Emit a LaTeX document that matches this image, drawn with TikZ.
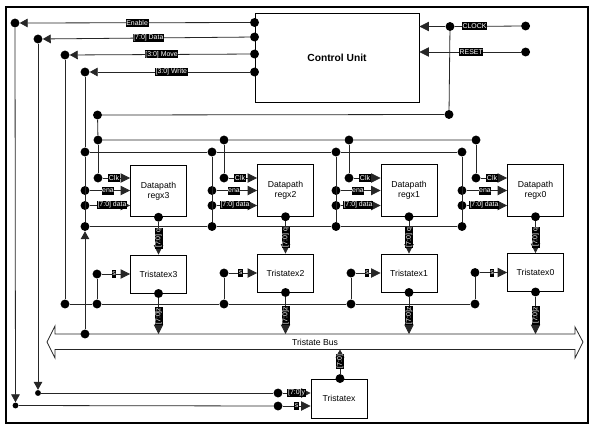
\documentclass[tikz,border=0pt]{standalone}
\usepackage{fontspec}
\setmainfont{Liberation Sans}
\usetikzlibrary{arrows.meta}
\tikzset{
    dot/.style={circle,fill=black,inner sep=0pt,minimum size=6.7pt},
    smalldot/.style={circle,fill=black,inner sep=0pt,minimum size=4.4pt},
    box/.style={draw,line width=.7pt,fill=white,align=center,font=\fontsize{6.5}{7.6}\selectfont,inner sep=0pt},
    sig/.style={fill=black,text=white,inner sep=.5pt,minimum height=6pt,font=\fontsize{5.2}{5.2}\selectfont},
    sigv/.style={sig,rotate=90},
    wire/.style={black!85,line width=.6pt},
    arrow/.style={wire,-{Triangle[length=7pt,width=7pt]}},
    arrowsmall/.style={wire,-{Triangle[length=6pt,width=6.5pt]}}
}

\begin{document}
\begin{tikzpicture}[x=.75pt,y=-.75pt]
    \useasboundingbox (0,0) rectangle (593,426);

    % Frame round the whole picture
    \draw[line width=.8pt] (6,7) rectangle (588,423);

    % Control unit and its signals
    \node[box,minimum width=164*.75pt,minimum height=89*.75pt,font=\fontsize{7.7}{9}\selectfont\bfseries] (cu) at (337,57.5) {Control Unit};
    \node[dot] (cuen) at (cu.west |- 0,22.5) {};
    \node[dot] (cuda) at (cu.west |- 0,37) {};
    \node[dot] (cumo) at (cu.west |- 0,54) {};
    \node[dot] (cuwr) at (cu.west |- 0,72) {};
    \node[dot] (en) at (15,23) {};
    \node[dot] (da) at (38,39) {};
    \node[dot] (mo) at (65,55) {};
    \node[dot] (wr) at (85,72) {};
    \draw[arrowsmall] (cuen) -- node[sig,pos=.49] {Enable} (en);
    \draw[arrowsmall] (cuda) -- node[sig,pos=.49] {[7:0] Data} (da);
    \draw[arrowsmall] (cumo) -- node[sig,pos=.49] {[3:0] Move} (mo);
    \draw[arrowsmall] (cuwr) -- node[sig,pos=.49] {[3:0] Write} (wr);

    % Clock and reset inputs
    \node[dot] (clkin) at (525.6,26) {};
    \node[dot] (rstin) at (525.6,52) {};
    \node[dot] (clk) at (450,26.5) {};
    \node[dot] (clkr) at (449,114.5) {};
    \node[dot] (clkl) at (97.5,115) {};
    \draw[wire] (clkin) -- node[sig,pos=.7] {CLOCK} (clk);
    \draw[arrow] (clk) -- (cu.east |- clk);
    \draw[arrow] (rstin) -- node[sig,pos=.49] {RESET} (cu.east |- rstin);
    \draw[wire] (clk) -- (clkr) -- (clkl);

    % Bus at the bottom, drawn as a double arrow
    \draw[wire] (55,334) -- (575,334) -- (575,327) -- (583,342) -- (575,358) -- (575,349.5) -- (55,349.5) -- (55,358) -- (47,342) -- (55,326) -- cycle;
    \node[font=\fontsize{6.5}{7.6}\selectfont] (bustext) at (315,342) {Tristate Bus};

    % The four slices: register above, tristate below
    \foreach \n/\cx/\ry/\ty/\ck/\en/\sx/\ckl/\enl/\dal/\sl in {
        3/158.5/191/274/98/85/97/114/108/112/114,
        2/285.5/190.5/273/224/212/224/240/234/235/240.5,
        1/409/190.5/273/349/336/351/365/358/358/367,
        0/535.5/190.5/272.5/476/462/475/492/485/484/492}{
        \node[box,minimum width=56*.75pt,minimum height=51.5*.75pt] (regx\n) at (\cx,\ry) {Datapath\\regx\n};
        \node[box,minimum width=56*.75pt,minimum height=38*.75pt] (tri\n) at (\cx,\ty) {Tristatex\n};
        \node[dot] (ctop\n) at (\ck,140) {};
        \node[dot] (cin\n) at (\ck,178) {};
        \node[dot] (etop\n) at (\en,152) {};
        \node[dot] (ein\n) at (\en,190.5) {};
        \node[dot] (din\n) at (\en,205.5) {};
        \node[dot] (dbot\n) at (\en,226.5) {};
        \node[dot] (qdot\n) at (regx\n.south) {};
        \node[dot] (odot\n) at (tri\n.south) {};
        \node[dot] (sdot\n) at (\sx,\ty) {};
        \node[dot] (sbus\n) at (\sx,304) {};
        \coordinate (bus\n) at (\cx,334);
        \draw[wire] (ctop\n) -- (cin\n);
        \draw[wire] (etop\n) -- (dbot\n);
        \draw[wire] (sdot\n) -- (sbus\n);
        \draw[arrow] (cin\n) -- (regx\n.west |- cin\n);
        \draw[arrow] (ein\n) -- (regx\n.west |- ein\n);
        \draw[arrow] (din\n) -- (regx\n.west |- din\n);
        \draw[arrow] (sdot\n) -- (tri\n.west |- sdot\n);
        \draw[arrow] (qdot\n) -- node[sigv] {[7:0] q} (qdot\n |- tri\n.north);
        \draw[arrow] (odot\n) -- node[sigv] {[7:0]z} (bus\n);
        \node[sig] (clab\n) at (\ckl,178) {Clk};
        \node[sig] (elab\n) at (\enl,190.5) {ena};
        \node[sig] (dlab\n) at (\dal,205) {[7:0] data};
        \node[sig] (slab\n) at (\sl,\ty) {s};
    }

    % Lines that join the slices
    \draw[wire] (clkl) -- (ctop3) -- (ctop2) -- (ctop1) -- (ctop0);
    \draw[wire] (etop3) -- (etop2) -- (etop1) -- (etop0);
    \draw[wire] (dbot3) -- (dbot2) -- (dbot1) -- (dbot0);
    \draw[wire] (wr) -- (etop3);

    % Move line along the tristates
    \node[dot] (mobot) at (65,304) {};
    \draw[wire] (mo) -- (mobot) -- (sbus3) -- (sbus2) -- (sbus1) -- (sbus0);

    % Write line from the bus upwards
    \node[dot] (wrbus) at (85,334) {};
    \draw[arrowsmall] (wrbus) -- (dbot3);

    % Tristate driving the bus
    \node[box,minimum width=56*.75pt,minimum height=39*.75pt] (tri) at (339,398.5) {Tristatex};
    \node[dot] (odot) at (tri.north -| 340,0) {};
    \coordinate (busb) at (340,349.5);
    \draw[arrowsmall] (odot) -- node[sigv] {[7:0]} (busb);
    \node[dot] (ydot) at (278,393) {};
    \node[dot] (sdot) at (278,406) {};
    \node[smalldot] (dabot) at (38,393) {};
    \node[smalldot] (enbot) at (15.5,405.5) {};
    \draw[arrowsmall] (da) -- (dabot);
    \draw[arrowsmall] (en) -- (enbot);
    \draw[wire] (dabot) -- (ydot);
    \draw[wire] (enbot) -- (sdot);
    \draw[arrow] (ydot) -- node[sig,pos=.5] {[7:0]y} (tri.west |- ydot);
    \draw[arrow] (sdot) -- node[sig,pos=.5] {s} (tri.west |- sdot);

\end{tikzpicture}
\end{document}
